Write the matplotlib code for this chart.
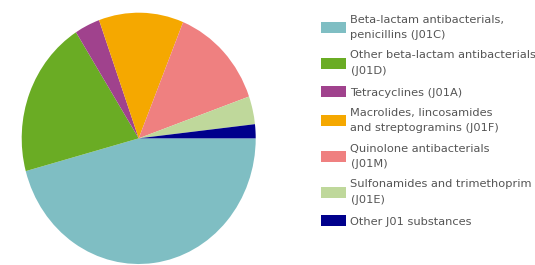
import matplotlib
matplotlib.use("Agg")
import matplotlib.pyplot as plt

# Data (share of J01 consumption, %)
labels = [
	"Beta-lactam antibacterials,\npenicillins (J01C)",
	"Other beta-lactam antibacterials\n(J01D)",
	"Tetracyclines (J01A)",
	"Macrolides, lincosamides\nand streptogramins (J01F)",
	"Quinolone antibacterials\n(J01M)",
	"Sulfonamides and trimethoprim\n(J01E)",
	"Other J01 substances",
]
shares = [45.8, 20.2, 3.5, 11.7, 13.4, 3.6, 1.8]
colors = ["#7fbec3", "#6aac24", "#a0428d", "#f5a800", "#ef8080", "#bfd89b", "#00008c"]

W, H = 535, 265
FONT_SIZE = 8.2
FS_PX = FONT_SIZE * 100 / 72.0
TEXT_COLOR = "#555555"

fig = plt.figure(figsize=(W/100, H/100), dpi=100)
matplotlib.rcParams.update({'font.family': 'DejaVu Sans'})

# pie axes fills the (slightly taller than wide) ellipse box
ax = fig.add_axes([21.7/W, 1.0/H, 234.0/W, 251.3/H])
wedges, _ = ax.pie(shares, colors=colors, startangle=0, counterclock=False,
	radius=1.0, wedgeprops={'linewidth': 0})
ax.set_aspect('auto')
ax.set_xlim(-1, 1)
ax.set_ylim(-1, 1)
ax.axis('off')

leg = fig.legend(wedges, labels, loc='upper left', bbox_to_anchor=(321/W, 1-14.5/H),
	frameon=False, fontsize=FONT_SIZE, handlelength=24.5/FS_PX, handleheight=12.5/FS_PX,
	handletextpad=5/FS_PX, labelspacing=0.9, borderaxespad=0, borderpad=0)
for t in leg.get_texts():
	t.set_color(TEXT_COLOR)
	t.set_linespacing(1.7)

fig.savefig("out.png", dpi=100)
